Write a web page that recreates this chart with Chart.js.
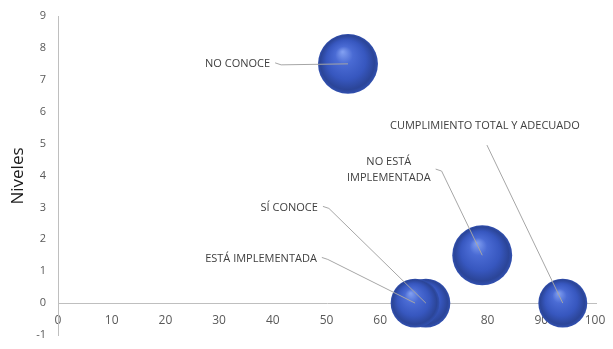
<!DOCTYPE html>
<html>
<head>
<meta charset="utf-8">
<script src="https://cdn.jsdelivr.net/npm/chart.js@4.4.1/dist/chart.umd.min.js"></script>
<style>
  body { margin: 0; background: #fff; }
</style>
</head>
<body>
<canvas id="grafica" width="613" height="349"></canvas>
<script>
// Datos
const categorias = ['NO CONOCE', 'SÍ CONOCE', 'ESTÁ IMPLEMENTADA', 'NO ESTÁ IMPLEMENTADA', 'CUMPLIMIENTO TOTAL Y ADECUADO'];
const valoresX = [54, 68.5, 66.5, 79, 94];
const valoresY = [7.5, 0, 0, 1.5, 0];
const tamanos = [3, 2, 2, 3, 2];
const ticksX = [0, 10, 20, 30, 40, 50, 60, 70, 80, 90, 100];
const ticksY = [-1, 0, 1, 2, 3, 4, 5, 6, 7, 8, 9];

// Posición de las etiquetas (en unidades de los ejes) y de dónde sale la línea guía
const etiquetas = [
    { lineas: ['NO CONOCE'], x: 39.5, y: 7.5, alinear: 'right', salida: 'lado' },
    { lineas: ['SÍ CONOCE'], x: 48.4, y: 3.0, alinear: 'right', salida: 'lado' },
    { lineas: ['ESTÁ IMPLEMENTADA'], x: 48.2, y: 1.4, alinear: 'right', salida: 'lado' },
    { lineas: ['NO ESTÁ', 'IMPLEMENTADA'], x: 61.6, y: 4.17, alinear: 'center', salida: 'lado' },
    { lineas: ['CUMPLIMIENTO TOTAL Y ADECUADO'], x: 79.5, y: 5.55, alinear: 'center', salida: 'abajo' }
];

const fuenteEtiqueta = '11px "Open Sans", sans-serif';

const radioBurbuja = tam => 17.3 * Math.sqrt(tam);

// Degradado para que las burbujas parezcan esferas
const colorEsfera = (context) => {
    const chart = context.chart;
    const raw = context.raw;
    if (!raw || !chart.scales.x) return '#3d5fc8';
    const cx = chart.scales.x.getPixelForValue(raw.x);
    const cy = chart.scales.y.getPixelForValue(raw.y);
    const r = raw.r;
    if (!isFinite(cx) || !isFinite(cy)) return '#3d5fc8';
    const g = chart.ctx.createRadialGradient(cx - r * 0.18, cy - r * 0.4, r * 0.02, cx, cy, r);
    g.addColorStop(0, '#809ef0');
    g.addColorStop(0.28, '#4a6bd4');
    g.addColorStop(0.65, '#3757bf');
    g.addColorStop(0.9, '#2b4598');
    g.addColorStop(1, '#3150b0');
    return g;
};

// Línea del eje X en y = 0, de 0 a 100
const ejeXPlugin = {
    id: 'ejeX',
    beforeDatasetsDraw(chart) {
        const { ctx, scales } = chart;
        const y0 = Math.round(scales.y.getPixelForValue(0)) + 0.5;
        const xIni = scales.x.getPixelForValue(ticksX[0]);
        const xFin = scales.x.getPixelForValue(ticksX[ticksX.length - 1]);
        ctx.save();
        ctx.strokeStyle = '#bfbfbf';
        ctx.lineWidth = 1;
        ctx.beginPath();
        ctx.moveTo(xIni, y0);
        ctx.lineTo(xFin + 2, y0);
        ctx.stroke();
        ctx.restore();
    }
};

const etiquetasPlugin = {
    id: 'etiquetas',
    afterDatasetsDraw(chart) {
        const { ctx, scales } = chart;
        ctx.save();
        ctx.font = fuenteEtiqueta;
        ctx.textBaseline = 'middle';
        etiquetas.forEach((et, i) => {
            const tx = scales.x.getPixelForValue(et.x);
            const ty = scales.y.getPixelForValue(et.y);
            const bx = scales.x.getPixelForValue(valoresX[i]);
            const by = scales.y.getPixelForValue(valoresY[i]);
            const alto = 16;
            const anchos = et.lineas.map(l => ctx.measureText(l).width);
            const anchoMax = Math.max(...anchos);
            const derecha = et.alinear === 'right' ? tx : tx + anchoMax / 2;

            // línea guía
            ctx.strokeStyle = '#a6a6a6';
            ctx.lineWidth = 1;
            ctx.beginPath();
            if (et.salida === 'lado') {
                ctx.moveTo(derecha + 5, ty - 1);
                ctx.lineTo(derecha + 11, ty + 1);
            } else {
                ctx.moveTo(tx + 2, ty + 19);
            }
            ctx.lineTo(bx, by);
            ctx.stroke();

            // texto
            ctx.fillStyle = '#404040';
            ctx.textAlign = et.alinear;
            const y0 = ty - (et.lineas.length - 1) * alto / 2;
            et.lineas.forEach((l, k) => ctx.fillText(l, tx, y0 + k * alto));
        });

        // título del eje Y
        ctx.save();
        ctx.translate(18, 176);
        ctx.rotate(-Math.PI / 2);
        ctx.font = '17px "Open Sans", sans-serif';
        ctx.fillStyle = '#1a1a1a';
        ctx.textAlign = 'center';
        ctx.textBaseline = 'middle';
        ctx.fillText('Niveles', 0, 0);
        ctx.restore();
        ctx.restore();
    }
};

const ctx = document.getElementById('grafica').getContext('2d');
new Chart(ctx, {
    type: 'bubble',
    data: {
        datasets: [{
            label: 'Niveles',
            data: categorias.map((c, i) => ({ x: valoresX[i], y: valoresY[i], r: radioBurbuja(tamanos[i]) })),
            backgroundColor: colorEsfera,
            borderWidth: 0,
            hoverBorderWidth: 0,
            clip: false
        }]
    },
    options: {
        responsive: false,
        animation: false,
        events: [],
        layout: { autoPadding: false, padding: { left: 0, right: 18, top: 16, bottom: 14 } },
        plugins: {
            legend: { display: false },
            tooltip: { enabled: false }
        },
        scales: {
            x: {
                type: 'linear',
                position: { y: 0 },
                min: ticksX[0],
                max: ticksX[ticksX.length - 1],
                afterBuildTicks: s => { s.ticks = ticksX.map(v => ({ value: v })); },
                afterFit: s => { s.paddingLeft = 0; s.paddingRight = 0; },
                grid: { display: false, drawTicks: false },
                border: { display: false },
                ticks: { color: '#595959', font: { size: 12, family: '"Open Sans", sans-serif' }, padding: 10 }
            },
            y: {
                type: 'linear',
                min: ticksY[0],
                max: ticksY[ticksY.length - 1],
                afterBuildTicks: s => { s.ticks = ticksY.map(v => ({ value: v })); },
                afterFit: s => { s.width = 58; s.paddingTop = 0; s.paddingBottom = 0; },
                grid: { display: false, drawTicks: false },
                border: { display: true, color: '#bfbfbf', width: 1 },
                ticks: { color: '#595959', font: { size: 11, family: '"Open Sans", sans-serif' }, padding: 12 }
            }
        }
    },
    plugins: [ejeXPlugin, etiquetasPlugin]
});
</script>
</body>
</html>
